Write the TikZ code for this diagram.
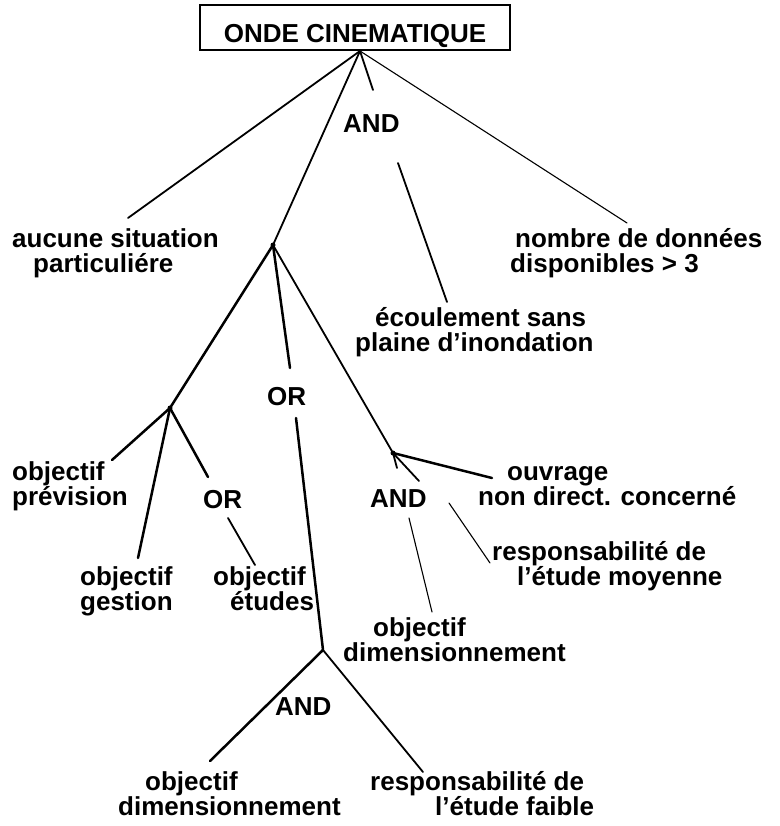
\documentclass[tikz,border=0pt]{standalone}
\usepackage{fontspec}
\setmainfont{Liberation Sans}
\begin{document}
\begin{tikzpicture}[x=1pt,y=-1pt,
  lbl/.style={anchor=base west,inner sep=0pt,align=left,font=\fontsize{26}{25}\selectfont\bfseries},
  lnA/.style={line width=2.5pt,line cap=round},
  lnB/.style={line width=1.8pt,line cap=round},
  lnC/.style={line width=1.1pt,line cap=round},
  jdot/.style={circle,fill,inner sep=0pt,minimum size=5pt}]
\useasboundingbox (0,0) rectangle (779,826);
% title box
\node[draw,line width=2.2pt,anchor=base,inner xsep=0pt,minimum width=310pt,
      inner ysep=7pt,text height=31pt,text depth=0pt,
      font=\fontsize{26}{25}\selectfont\bfseries] (title) at (355,43) {ONDE CINEMATIQUE};
% junctions and line ends
\coordinate (root) at (360,51);
\coordinate (J1) at (273,245);
\coordinate (J2) at (170,408);
\coordinate (J3) at (393,453);
\coordinate (J4) at (323,650);
\coordinate (aucE) at (128,218);
\coordinate (nomE) at (627,223);
\coordinate (and1a) at (373,90);
\coordinate (and1b) at (398,163);
\coordinate (ecoE) at (447,302);
\coordinate (or1a) at (290,368);
\coordinate (or1b) at (296,418);
\coordinate (prevE) at (112,460);
\coordinate (gestE) at (138,558);
\coordinate (or2a) at (208,477);
\coordinate (or2b) at (228,518);
\coordinate (etuE) at (255,565);
\coordinate (ouvE) at (492,478);
\coordinate (and2a) at (397,468);
\coordinate (and2b) at (409,518);
\coordinate (dimE) at (432,612);
\coordinate (and2c) at (419,481);
\coordinate (and2d) at (449,503);
\coordinate (moyE) at (490,563);
\coordinate (dim2E) at (210,761);
\coordinate (faiE) at (423,772);
% labels (anchored at the baseline of the last line)
\node[lbl] (auc) at (12,272) {aucune situation\\\hspace*{21pt}particuliére};
\node[lbl] (nom) at (510,272) {\hspace*{5pt}nombre de données\\disponibles > 3};
\node[lbl] (eco) at (355,351) {\hspace*{20pt}écoulement sans\\plaine d’inondation};
\node[lbl] (ouv) at (478,505) {\hspace*{29pt}ouvrage\\non direct. concerné};
\node[lbl] (moy) at (492,585) {responsabilité de\\\hspace*{25pt}l’étude moyenne};
\node[lbl] (dim) at (343,661) {\hspace*{30pt}objectif\\dimensionnement};
\node[lbl] (prev) at (12,505) {objectif\\prévision};
\node[lbl] (gest) at (80,610) {objectif\\gestion};
\node[lbl] (etu) at (213,610) {objectif\\\hspace*{17pt}études};
\node[lbl] (bdim) at (118,815) {\hspace*{27pt}objectif\\dimensionnement};
\node[lbl] (fai) at (370,815) {responsabilité de\\\hspace*{65pt}l’étude faible};
% operators
\node[lbl] (andA) at (343,133) {AND};
\node[lbl] (orA) at (267,405) {OR};
\node[lbl] (orB) at (203,508) {OR};
\node[lbl] (andB) at (370,507) {AND};
\node[lbl] (andC) at (275,715) {AND};
% connectors
\draw[lnB] (root) -- (aucE);
\draw[lnC] (root) -- (nomE);
\draw[lnB] (root) -- (and1a);
\draw[lnB] (and1b) -- (ecoE);
\draw[lnB] (root) -- (J1);
\draw[lnA] (J1) -- (or1a);
\draw[lnA] (or1b) -- (J4);
\draw[lnA] (J1) -- (J2);
\draw[lnB] (J1) -- (J3);
\draw[lnA] (J2) -- (prevE);
\draw[lnA] (J2) -- (gestE);
\draw[lnA] (J2) -- (or2a);
\draw[lnB] (or2b) -- (etuE);
\draw[lnA] (J3) -- (ouvE);
\draw[lnB] (J3) -- (and2a);
\draw[lnC] (and2b) -- (dimE);
\draw[lnB] (J3) -- (and2c);
\draw[lnC] (and2d) -- (moyE);
\draw[lnA] (J4) -- (dim2E);
\draw[lnB] (J4) -- (faiE);
% junction dots
\node[jdot] (d1) at (J1) {};
\node[jdot] (d2) at (J2) {};
\node[jdot] (d3) at (J3) {};
\end{tikzpicture}
\end{document}
